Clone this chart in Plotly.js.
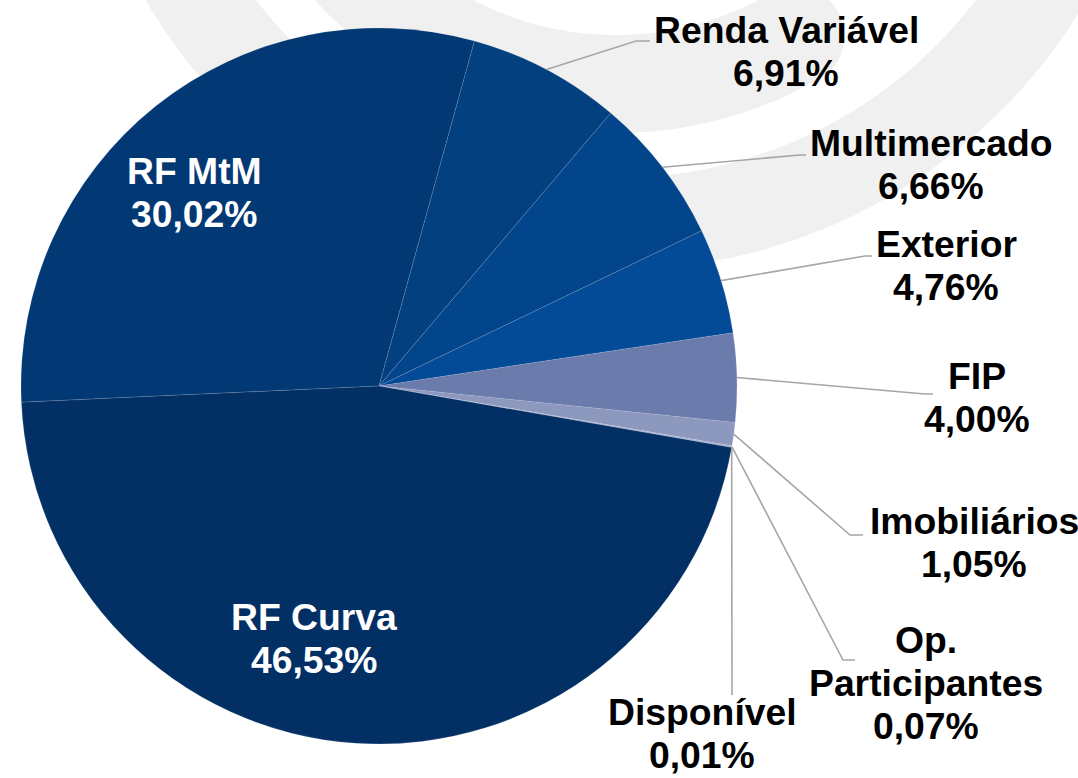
<!DOCTYPE html>
<html><head><meta charset="utf-8">
<script src="https://cdn.plot.ly/plotly-3.0.1.min.js"></script>
<style>html,body{margin:0;padding:0;background:#fff;overflow:hidden}#chart{width:1078px;height:778px}</style>
</head><body><div id="chart"></div>
<script>
// ---- data ----
const categories = ["RF MtM", "Renda Variável", "Multimercado", "Exterior", "FIP", "Imobiliários", "Op. Participantes", "Disponível", "RF Curva"];
const values = [30.02, 6.91, 6.66, 4.76, 4.00, 1.05, 0.07, 0.01, 46.53];
const sliceColors = ["#023873", "#024080", "#03458B", "#034B96", "#6B7BAB", "#8D98BE", "#A9B1CF", "#C5CBE0", "#033064"];

// ---- layout / style ----
const W = 1078, H = 778;
const CX = 379, CY = 386, R = 358;      // pie centre and radius in pixels
const START = 267.4;                     // clockwise from 12 o'clock, where the first slice starts
const FONT = "Liberation Sans, Arial, Helvetica, sans-serif";
const FS = 37.3, LINE = 43;
const wrap = {"Op. Participantes": ["Op.", "Participantes"]};
// label block: x centre, y centre of first line, inside?, leader elbow & end
const labelPos = {
  "RF MtM":            {x: 194, y: 171, inside: true},
  "RF Curva":          {x: 314, y: 617, inside: true},
  "Renda Variável":    {x: 786, y: 30,  elbow: [636, 41],  end: [650, 41]},
  "Multimercado":      {x: 931, y: 143, elbow: [800, 155], end: [806, 155]},
  "Exterior":          {x: 946, y: 244, elbow: [865, 256], end: [872, 256]},
  "FIP":               {x: 977, y: 376, elbow: [925, 394], end: [933, 394]},
  "Imobiliários":      {x: 974, y: 521, elbow: [850, 535], end: [863, 535]},
  "Op. Participantes": {x: 926, y: 640, elbow: [843, 660], end: [855, 660]},
  "Disponível":        {x: 702, y: 712, elbow: [732, 695], end: [732, 695]}
};

const px = x => x / W, py = y => 1 - y / H;

// ---- background watermark rings ----
const RC = [616, -275];
function ptsArc(r, a0, a1, n) {
  const out = [];
  for (let k = 0; k <= n; k++) {
    const a = (a0 + (a1 - a0) * k / n) * Math.PI / 180;
    out.push([RC[0] + r * Math.cos(a), RC[1] + r * Math.sin(a)]);
  }
  return out;
}
function toPath(rings) {
  return rings.map(pts => 'M' + pts.map(p => px(p[0]).toFixed(5) + ',' + py(p[1]).toFixed(5)).join('L') + 'Z').join(' ');
}
const bigRing = toPath([ptsArc(545, 0, 360, 240), ptsArc(453, 360, 0, 240)]);
// band with a rounded end
const rin = 310, rout = 408, aEnd = 60;
const band = [].concat(ptsArc(rout, aEnd, 250, 160), ptsArc(rin, 250, aEnd, 160));
(function () {
  const a = aEnd * Math.PI / 180, rm = (rin + rout) / 2, h = (rout - rin) / 2;
  const u = [Math.cos(a), Math.sin(a)], t = [Math.sin(a), -Math.cos(a)];
  const c = [RC[0] + rm * u[0], RC[1] + rm * u[1]];
  for (let k = 1; k < 30; k++) {
    const f = Math.PI * k / 30;
    band.push([c[0] + h * (-u[0] * Math.cos(f) + t[0] * Math.sin(f)), c[1] + h * (-u[1] * Math.cos(f) + t[1] * Math.sin(f))]);
  }
})();
const bandPath = toPath([band]);

const shapes = [
  {type: 'path', xref: 'paper', yref: 'paper', path: bigRing, fillcolor: '#F0F0F0', line: {width: 0}, layer: 'below', fillrule: 'evenodd'},
  {type: 'path', xref: 'paper', yref: 'paper', path: bandPath, fillcolor: '#F0F0F0', line: {width: 0}, layer: 'below'}
];
const annotations = [];

const total = values.reduce((a, b) => a + b, 0);
let cum = 0;
categories.forEach((name, i) => {
  const v = values[i];
  const mid = START + (cum + v / 2) / total * 360;
  cum += v;
  const lp = labelPos[name];
  const lines = (wrap[name] || [name]).concat([v.toFixed(2).replace('.', ',') + '%']);
  lines.forEach((txt, j) => {
    annotations.push({
      xref: 'paper', yref: 'paper', x: px(lp.x), y: py(lp.y + j * LINE),
      xanchor: 'center', yanchor: 'middle', showarrow: false,
      text: '<b>' + txt + '</b>',
      font: {family: FONT, size: FS, color: lp.inside ? '#FFFFFF' : '#000000'}
    });
  });
  if (!lp.inside) {
    const th = mid * Math.PI / 180;
    const sx = CX + R * Math.sin(th), sy = CY - R * Math.cos(th);
    shapes.push({
      type: 'path', xref: 'paper', yref: 'paper', layer: 'above',
      path: 'M' + px(sx) + ',' + py(sy) + 'L' + px(lp.elbow[0]) + ',' + py(lp.elbow[1]) + 'L' + px(lp.end[0]) + ',' + py(lp.end[1]),
      line: {color: '#A6A6A6', width: 1.6}
    });
  }
});

let rot = START; if (rot > 180) rot -= 360;
const trace = {
  type: 'pie', labels: categories, values: values, sort: false, direction: 'clockwise',
  rotation: rot, textinfo: 'none', hoverinfo: 'label+percent',
  marker: {colors: sliceColors, line: {color: 'rgba(200,210,230,0.3)', width: 0.5}},
  domain: {x: [(CX - R) / W, (CX + R) / W], y: [1 - (CY + R) / H, 1 - (CY - R) / H]},
  showlegend: false
};
const layout = {
  width: W, height: H, margin: {l: 0, r: 0, t: 0, b: 0},
  paper_bgcolor: '#FFFFFF', plot_bgcolor: '#FFFFFF',
  shapes: shapes, annotations: annotations, showlegend: false
};
Plotly.newPlot('chart', [trace], layout, {displayModeBar: false, staticPlot: true});
</script>
</body></html>
